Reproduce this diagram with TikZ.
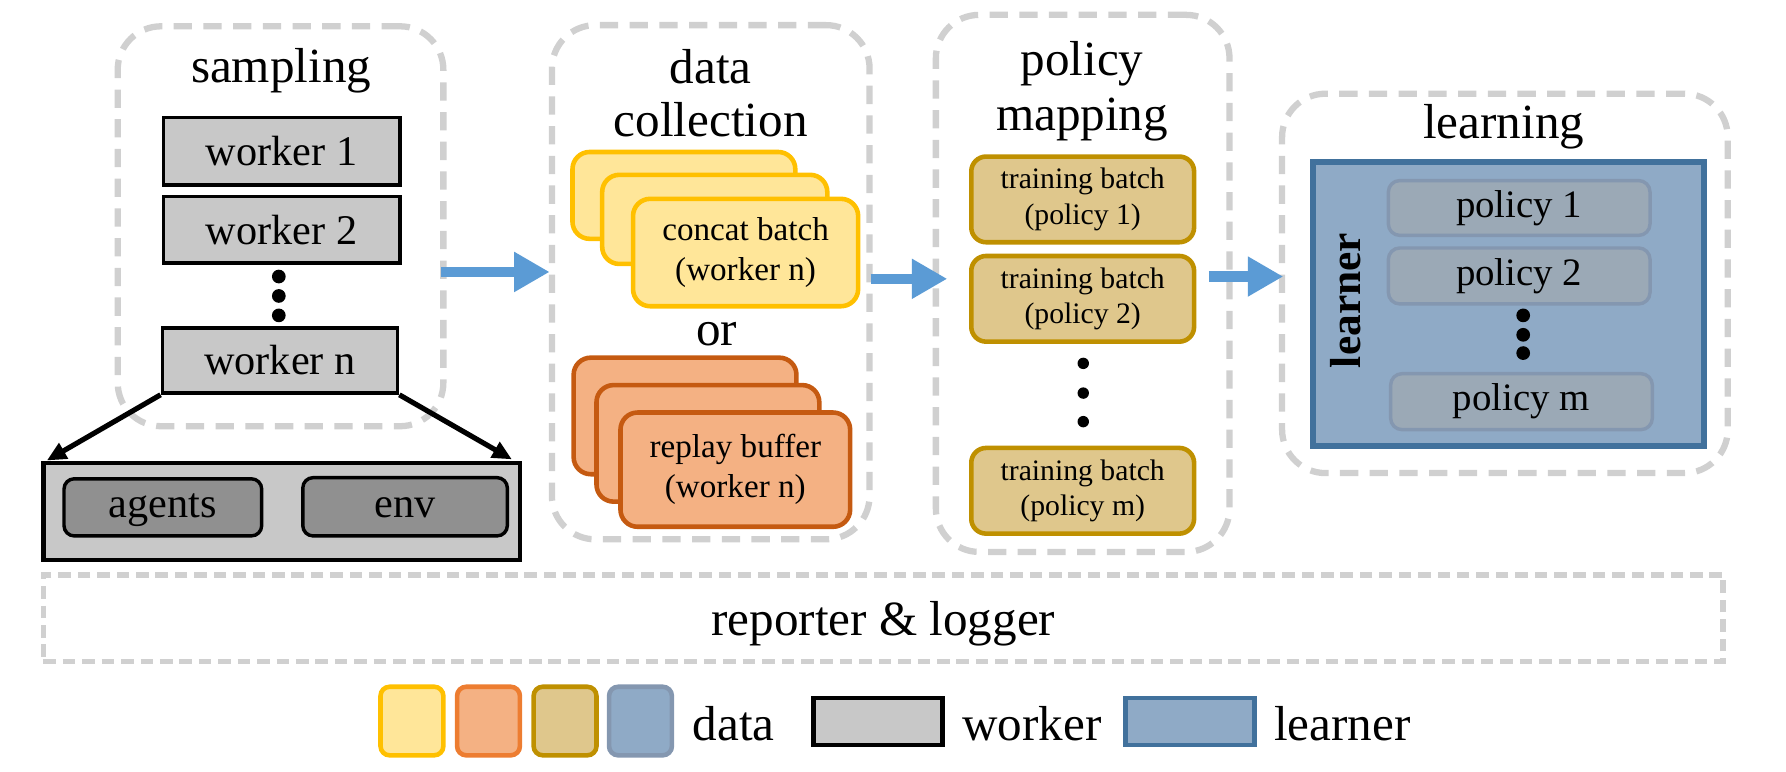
\documentclass[tikz,border=0pt]{standalone}
\usepackage{fontspec}
\setmainfont{Liberation Serif}
\usetikzlibrary{arrows.meta,calc}
\definecolor{dashgray}{HTML}{D0D0D0}
\definecolor{wfill}{HTML}{C8C8C8}
\definecolor{afill}{HTML}{909090}
\definecolor{yfill}{HTML}{FFE699}
\definecolor{ydraw}{HTML}{FFC000}
\definecolor{ofill}{HTML}{F4B183}
\definecolor{odraw}{HTML}{C55A11}
\definecolor{olegdraw}{HTML}{ED7D31}
\definecolor{gfill}{HTML}{DFC78C}
\definecolor{gdraw}{HTML}{BF9000}
\definecolor{bfill}{HTML}{8FAAC6}
\definecolor{bdraw}{HTML}{41719C}
\definecolor{pfill}{HTML}{9BA9B6}
\definecolor{pdraw}{HTML}{8497B0}
\definecolor{arrblue}{HTML}{5B9BD5}
\tikzset{
  stage/.style={draw=dashgray,line width=5.5pt,dash pattern=on 16pt off 10pt,rounded corners=38pt,inner sep=0pt},
  titletxt/.style={font=\fontsize{43}{48}\selectfont,inner sep=0pt},
  workerbox/.style={draw=black,fill=wfill,line width=3pt,inner sep=0pt,font=\fontsize{37}{40}\selectfont},
  innerbox/.style={draw=black,fill=afill,line width=3pt,rounded corners=9pt,inner sep=0pt,font=\fontsize{37}{40}\selectfont,text height=26pt,text depth=8pt},
  ybox/.style={draw=ydraw,fill=yfill,line width=4pt,rounded corners=15pt,inner sep=0pt,align=center,font=\fontsize{29}{35}\selectfont},
  obox/.style={draw=odraw,fill=ofill,line width=4pt,rounded corners=15pt,inner sep=0pt,align=center,font=\fontsize{29}{35}\selectfont},
  gbox/.style={draw=gdraw,fill=gfill,line width=4pt,rounded corners=13pt,inner sep=0pt,align=center,font=\fontsize{26}{31}\selectfont},
  pbox/.style={draw=pdraw,fill=pfill,line width=3pt,rounded corners=10pt,inner sep=0pt,font=\fontsize{34}{38}\selectfont},
  bluearr/.style={draw=arrblue,line width=9pt,-{Triangle[length=31pt,width=33pt]}},
  blackarr/.style={draw=black,line width=4.5pt,-{Triangle[length=17pt,width=15pt]}},
  dotc/.style={fill=black,circle,inner sep=0pt,minimum size=12pt},
  legsq/.style={line width=4pt,rounded corners=8pt,minimum width=55pt,minimum height=60pt,inner sep=0pt},
  legtxt/.style={font=\fontsize{43}{48}\selectfont,inner sep=0pt,anchor=west}
}
\begin{document}
\begin{tikzpicture}[x=1pt,y=-1pt]
\useasboundingbox (0,0) rectangle (1563,675);
% ---------- sampling ----------
\node[stage,minimum width=285pt,minimum height=350pt] (sampling) at (245.5,198) {};
\node[titletxt] (tsampling) at (246,62) {sampling};
\node[workerbox,minimum width=207pt,minimum height=59pt] (w1) at (246.5,132.5) {worker 1};
\node[workerbox,minimum width=207pt,minimum height=58pt] (w2) at (246.5,201) {worker 2};
\node[dotc] (sd1) at (244,242) {};
\node[dotc] (sd2) at (244,259) {};
\node[dotc] (sd3) at (244,276) {};
\node[workerbox,minimum width=206pt,minimum height=57pt] (wn) at (245,315.5) {worker n};
\node[workerbox,line width=4pt,minimum width=417pt,minimum height=85pt] (envbox) at (246.5,447.5) {};
\node[innerbox,minimum width=173pt,minimum height=50pt] (agents) at (142.5,444) {agents};
\node[innerbox,minimum width=179pt,minimum height=51pt] (env) at (354.5,443.5) {env};
\coordinate (envl) at (41,403);
\coordinate (envr) at (448,402);
\draw[blackarr] (wn.south west) -- (envl);
\draw[blackarr] (wn.south east) -- (envr);
% ---------- data collection ----------
\node[stage,minimum width=278pt,minimum height=450pt] (datacol) at (622,247) {};
\node[titletxt] (tdata) at (622,58) {data};
\node[titletxt] (tcoll) at (622,105) {collection};
\node[ybox,minimum width=195pt,minimum height=76pt] (y1) at (598.5,171) {};
\node[ybox,minimum width=197pt,minimum height=78pt] (y2) at (625.5,192) {};
\node[ybox,minimum width=197pt,minimum height=94pt] (y3) at (652.5,221) {concat batch\\(worker n)};
\node[titletxt] (tor) at (627,292) {or};
\node[obox,minimum width=195pt,minimum height=102pt] (o1) at (599.5,364) {};
\node[obox,minimum width=195pt,minimum height=102pt] (o2) at (619.5,388) {};
\node[obox,minimum width=201pt,minimum height=100pt] (o3) at (643.5,411) {replay buffer\\(worker n)};
% ---------- policy mapping ----------
\node[stage,minimum width=257pt,minimum height=470pt] (polmap) at (947.5,248) {};
\node[titletxt] (tpol) at (947,56) {policy};
\node[titletxt] (tmap) at (947,105) {mapping};
\node[gbox,minimum width=195pt,minimum height=75pt] (tb1) at (947.5,174.5) {training batch\\(policy 1)};
\node[gbox,minimum width=195pt,minimum height=75pt] (tb2) at (947.5,261.5) {training batch\\(policy 2)};
\node[dotc,minimum size=10pt] (pd1) at (948,318) {};
\node[dotc,minimum size=10pt] (pd2) at (948,344) {};
\node[dotc,minimum size=10pt] (pd3) at (948,369) {};
\node[gbox,minimum width=195pt,minimum height=75pt] (tbm) at (947.5,429.5) {training batch\\(policy m)};
% ---------- learning ----------
\node[stage,minimum width=390pt,minimum height=332pt] (learning) at (1317,248) {};
\node[titletxt] (tlearn) at (1316,111) {learning};
\node[draw=bdraw,fill=bfill,line width=5pt,minimum width=342pt,minimum height=248pt,inner sep=0pt] (learner) at (1320,266) {};
\node[pbox,minimum width=229pt,minimum height=48pt] (p1) at (1329.5,182) {policy 1};
\node[pbox,minimum width=229pt,minimum height=49pt] (p2) at (1329.5,241.5) {policy 2};
\node[dotc] (ld1) at (1333,276) {};
\node[dotc] (ld2) at (1333,293) {};
\node[dotc] (ld3) at (1333,309) {};
\node[pbox,minimum width=229pt,minimum height=49pt] (pm) at (1331.5,351.5) {policy m};
\node[font=\fontsize{38}{42}\selectfont\bfseries,rotate=90,inner sep=0pt] (tlearner) at (1178,263) {learner};
% ---------- blue arrows ----------
\coordinate (a1s) at (386,238);
\coordinate (a1e) at (481,238);
\coordinate (a2s) at (762,244);
\coordinate (a2e) at (829,244);
\coordinate (a3s) at (1058,242);
\coordinate (a3e) at (1123,242);
\draw[bluearr] (a1s) -- (a1e);
\draw[bluearr] (a2s) -- (a2e);
\draw[bluearr] (a3s) -- (a3e);
% ---------- reporter ----------
\node[draw=dashgray,line width=5pt,dash pattern=on 11pt off 6pt,minimum width=1470pt,minimum height=76pt,inner sep=0pt] (reporter) at (773,541) {};
\node[titletxt] (treporter) at (773,546) {reporter \& logger};
% ---------- legend ----------
\node[legsq,draw=ydraw,fill=yfill] (ly) at (360.5,631) {};
\node[legsq,draw=olegdraw,fill=ofill] (lo) at (427.5,631) {};
\node[legsq,draw=gdraw,fill=gfill] (lg) at (494.5,631) {};
\node[legsq,draw=pdraw,fill=bfill] (lb) at (560.5,631) {};
\node[legtxt] (ldata) at (606,633) {data};
\node[draw=black,fill=wfill,line width=4pt,minimum width=113pt,minimum height=41pt,inner sep=0pt] (lw) at (768.5,631.5) {};
\node[legtxt] (lworker) at (842,633) {worker};
\node[draw=bdraw,fill=bfill,line width=4pt,minimum width=113pt,minimum height=41pt,inner sep=0pt] (ll) at (1041.5,631.5) {};
\node[legtxt] (llearner) at (1115,633) {learner};
\end{tikzpicture}
\end{document}
